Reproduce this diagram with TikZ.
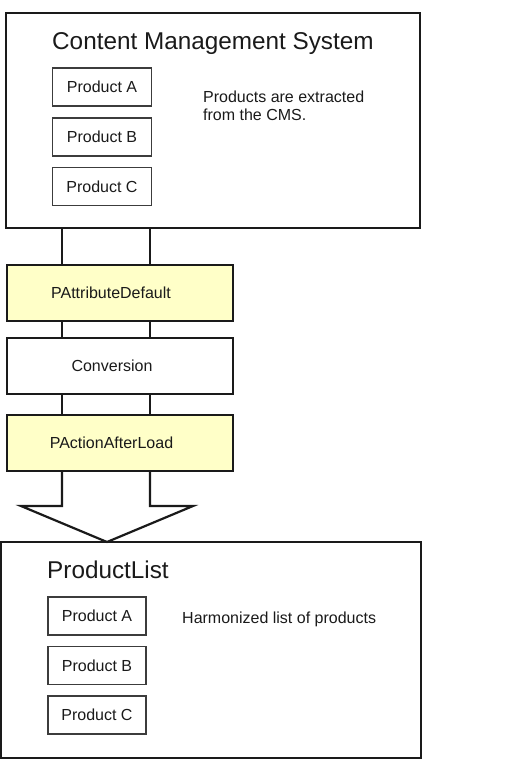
\documentclass[tikz,border=0pt]{standalone}
\usepackage{fontspec}
\setmainfont{Liberation Sans}
\usetikzlibrary{calc}
\definecolor{ink}{HTML}{1A1A1A}
\definecolor{paleyellow}{HTML}{FFFFC8}
\begin{document}
\begin{tikzpicture}[x=1pt,y=-1pt,
  bigbox/.style={draw=ink,line width=2.2pt,inner sep=0pt,outer sep=0pt},
  prodbox/.style={draw=ink!85,line width=1.2pt,inner sep=0pt,outer sep=0pt,minimum width=99pt,minimum height=38pt,font=\fontsize{16}{19}\selectfont,text=ink},
  stagebox/.style={draw=ink,line width=2.2pt,inner sep=0pt,outer sep=0pt,minimum width=226pt,minimum height=56pt},
  stagetext/.style={font=\fontsize{16}{19}\selectfont,text=ink},
  titletext/.style={font=\fontsize{24.3}{28}\selectfont,text=ink,inner sep=0pt},
  notetext/.style={font=\fontsize{16}{17.5}\selectfont,text=ink,inner sep=0pt,align=left},
  link/.style={draw=ink,line width=2.2pt}]
\useasboundingbox (0,0) rectangle (506,759);

% Content Management System
\node[bigbox,minimum width=414pt,minimum height=215pt] (cms) at (213,120.5) {};
\node[titletext,anchor=base west] (cmstitle) at (52,50) {Content Management System};
\node[prodbox] (pa1) at (102,87) {Product A};
\node[prodbox] (pb1) at (102,137) {Product B};
\node[prodbox] (pc1) at (102,186.5) {Product C};
\node[notetext,anchor=base west] (cmsnote) at (203,120.5) {Products are extracted\\from the CMS.};

% stages
\node[stagebox,fill=paleyellow,label={[stagetext,xshift=-9pt]center:PAttributeDefault}] (pad) at (120,293) {};
\node[stagebox,fill=white,label={[stagetext,xshift=-8pt]center:Conversion}] (conv) at (120,366) {};
\node[stagebox,fill=paleyellow,label={[stagetext,xshift=-8.5pt]center:PActionAfterLoad}] (pal) at (120,443) {};

% ProductList
\node[bigbox,minimum width=420pt,minimum height=216pt] (plist) at (211,650) {};
\node[titletext,anchor=base west] (pltitle) at (47,578) {ProductList};
\node[prodbox,minimum width=98pt] (pa2) at (97,616) {Product A};
\node[prodbox,minimum width=98pt] (pb2) at (97,665.5) {Product B};
\node[prodbox,minimum width=98pt] (pc2) at (97,715) {Product C};
\node[notetext,anchor=base west] (plnote) at (182,623) {Harmonized list of products};

% connectors
\foreach \s/\t in {cms/pad,pad/conv,conv/pal}{
  \draw[link] ([xshift=55pt]\t.north west |- \s.south) -- ([xshift=55pt]\t.north west);
  \draw[link] ([xshift=143pt]\t.north west |- \s.south) -- ([xshift=143pt]\t.north west);
}

% big arrow
\coordinate (al) at ([xshift=55pt]pal.south west);
\coordinate (ar) at ([xshift=143pt]pal.south west);
\coordinate (tip) at ([xshift=106pt]plist.north west);
\draw[link,line join=miter] (al) -- ++(0,35) -- ++(-41,0) -- (tip) -- ($(ar)+(43,35)$) -- ($(ar)+(0,35)$) -- (ar);
\end{tikzpicture}
\end{document}
